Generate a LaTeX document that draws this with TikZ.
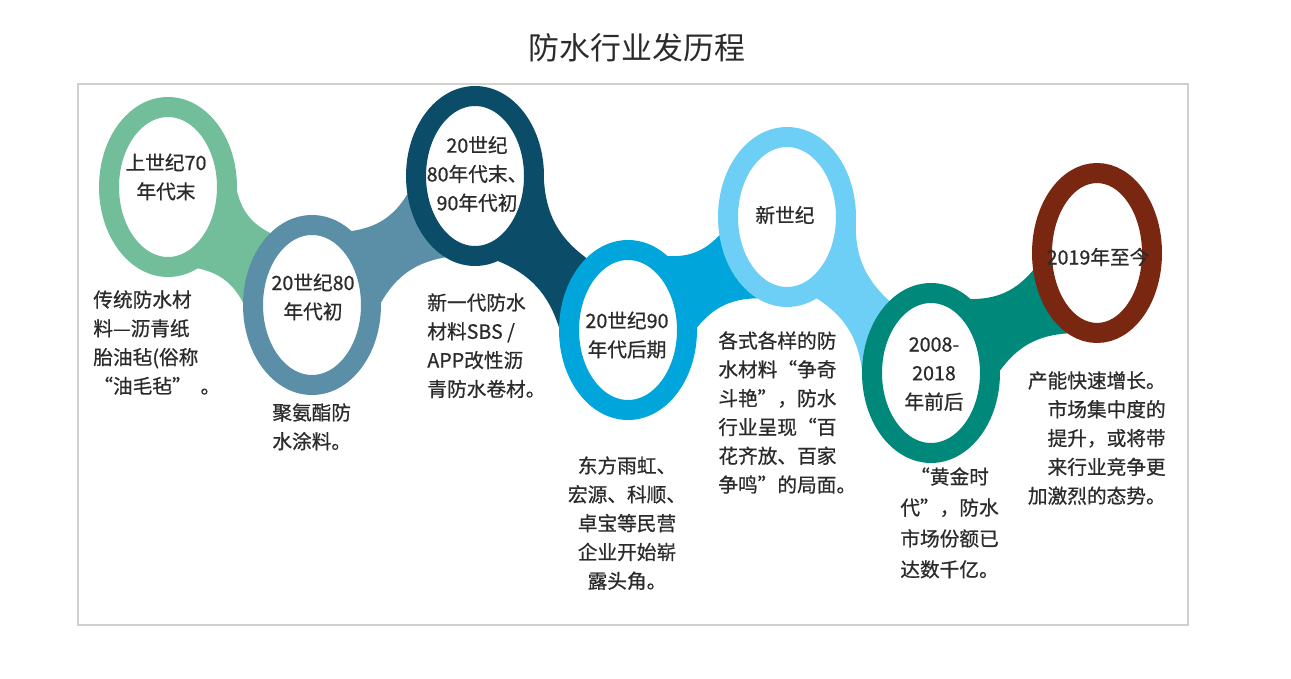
\documentclass[tikz,border=0pt]{standalone}
\usepackage{fontspec}
\newfontfamily\cjk{Noto Sans CJK SC}
\newfontfamily\cjkheavy[FakeBold=0.7]{Noto Sans CJK SC}
\usetikzlibrary{shapes.geometric, backgrounds}
\definecolor{ringA}{HTML}{72BE9A}
\definecolor{ringB}{HTML}{5A8FA7}
\definecolor{ringC}{HTML}{0B4D69}
\definecolor{ringD}{HTML}{00A5DC}
\definecolor{ringE}{HTML}{6DCFF6}
\definecolor{ringF}{HTML}{00897B}
\definecolor{ringG}{HTML}{7A2712}
\definecolor{txtgray}{HTML}{2B2B2B}
\definecolor{framegray}{HTML}{D0D0D0}

\begin{document}
\begin{tikzpicture}[
    x=0.02cm, y=-0.02cm,
    font=\cjkheavy\fontsize{11.2}{16.4}\selectfont, text=txtgray,
    ring/.style={ellipse, draw=#1, fill=white, line width=0.4cm,
                 inner sep=0pt, minimum width=2.36cm, minimum height=3.2cm},
    stage/.style={align=center, inner sep=0pt},
    note/.style={align=left, anchor=north west, inner sep=0pt},
  ]
    \useasboundingbox (0,0) rectangle (1291,679);
    \node[font=\cjk\fontsize{17.6}{20}\selectfont] (title) at (637,48)
      {防水行业发历程};
    \draw[framegray, line width=0.04cm] (78,84) rectangle (1188,625);

    % rings
    \node[ring=ringA] (r1) at (168,187) {};
    \node[ring=ringB] (r2) at (312,305) {};
    \node[ring=ringC] (r3) at (475,176) {};
    \node[ring=ringD] (r4) at (628,330) {};
    \node[ring=ringE] (r5) at (787,217) {};
    \node[ring=ringF] (r6) at (931,373) {};
    \node[ring=ringG, minimum width=2.2cm] (r7) at (1097,253) {};

    % bands between the rings
    \begin{scope}[on background layer]
      \fill[ringA] (r1.-3) to[bend right=25] (r2.120)
        -- (r2.178) to[bend right=25] (r1.290) -- cycle;
      \fill[ringB] (r2.62) to[bend right=25] (r3.195)
        -- (r3.250) to[bend right=25] (r2.2) -- cycle;
      \fill[ringC] (r3.-3) to[bend right=25] (r4.120)
        -- (r4.178) to[bend right=25] (r3.285) -- cycle;
      \fill[ringD] (r4.62) to[bend right=25] (r5.195)
        -- (r5.250) to[bend right=25] (r4.2) -- cycle;
      \fill[ringE] (r5.-3) to[bend right=25] (r6.120)
        -- (r6.178) to[bend right=25] (r5.290) -- cycle;
      \fill[ringF] (r6.62) to[bend right=25] (r7.195)
        -- (r7.250) to[bend right=25] (r6.2) -- cycle;
    \end{scope}

    % ring labels
    \node[stage] (l1) at (166,177) {上世纪70\\年代末};
    \node[stage] (l2) at (313,297) {20世纪80\\年代初};
    \node[stage] (l3) at (477,174) {20世纪\\80年代末、\\90年代初};
    \node[stage] (l4) at (627,335) {20世纪90\\年代后期};
    \node[stage] (l5) at (785,215) {新世纪};
    \node[stage] (l6) at (934,374) {2008-\\2018\\年前后};
    \node[stage] (l7) at (1098,257) {2019年至今};

    % notes under the rings
    \node[note] (d1) at (93,290)
      {传统防水材\\料—沥青纸\\胎油毡(俗称\\“油毛毡”\ \ 。};
    \node[note] (d2) at (272,403) {聚氨酯防\\水涂料。};
    \node[note] (d3) at (427,293)
      {新一代防水\\材料SBS /\\APP改性沥\\青防水卷材。};
    \node[note, align=center, anchor=north] (d4) at (627,456)
      {东方雨虹、\\宏源、科顺、\\卓宝等民营\\企业开始崭\\露头角。};
    \node[note] (d5) at (718,331)
      {各式各样的防\\水材料“争奇\\斗艳”，防水\\行业呈现“百\\花齐放、百家\\争鸣”的局面。};
    \node[note, font=\cjkheavy\fontsize{11.2}{17.6}\selectfont] (d6) at (900,467)
      {\hspace*{0.5em}“黄金时\\代”，防水\\市场份额已\\达数千亿。};
    \node[note, align=right, anchor=north east] (d7) at (1166,371)
      {产能快速增长。\\市场集中度的\\提升，或将带\\来行业竞争更\\加激烈的态势。};
  \end{tikzpicture}
\end{document}
